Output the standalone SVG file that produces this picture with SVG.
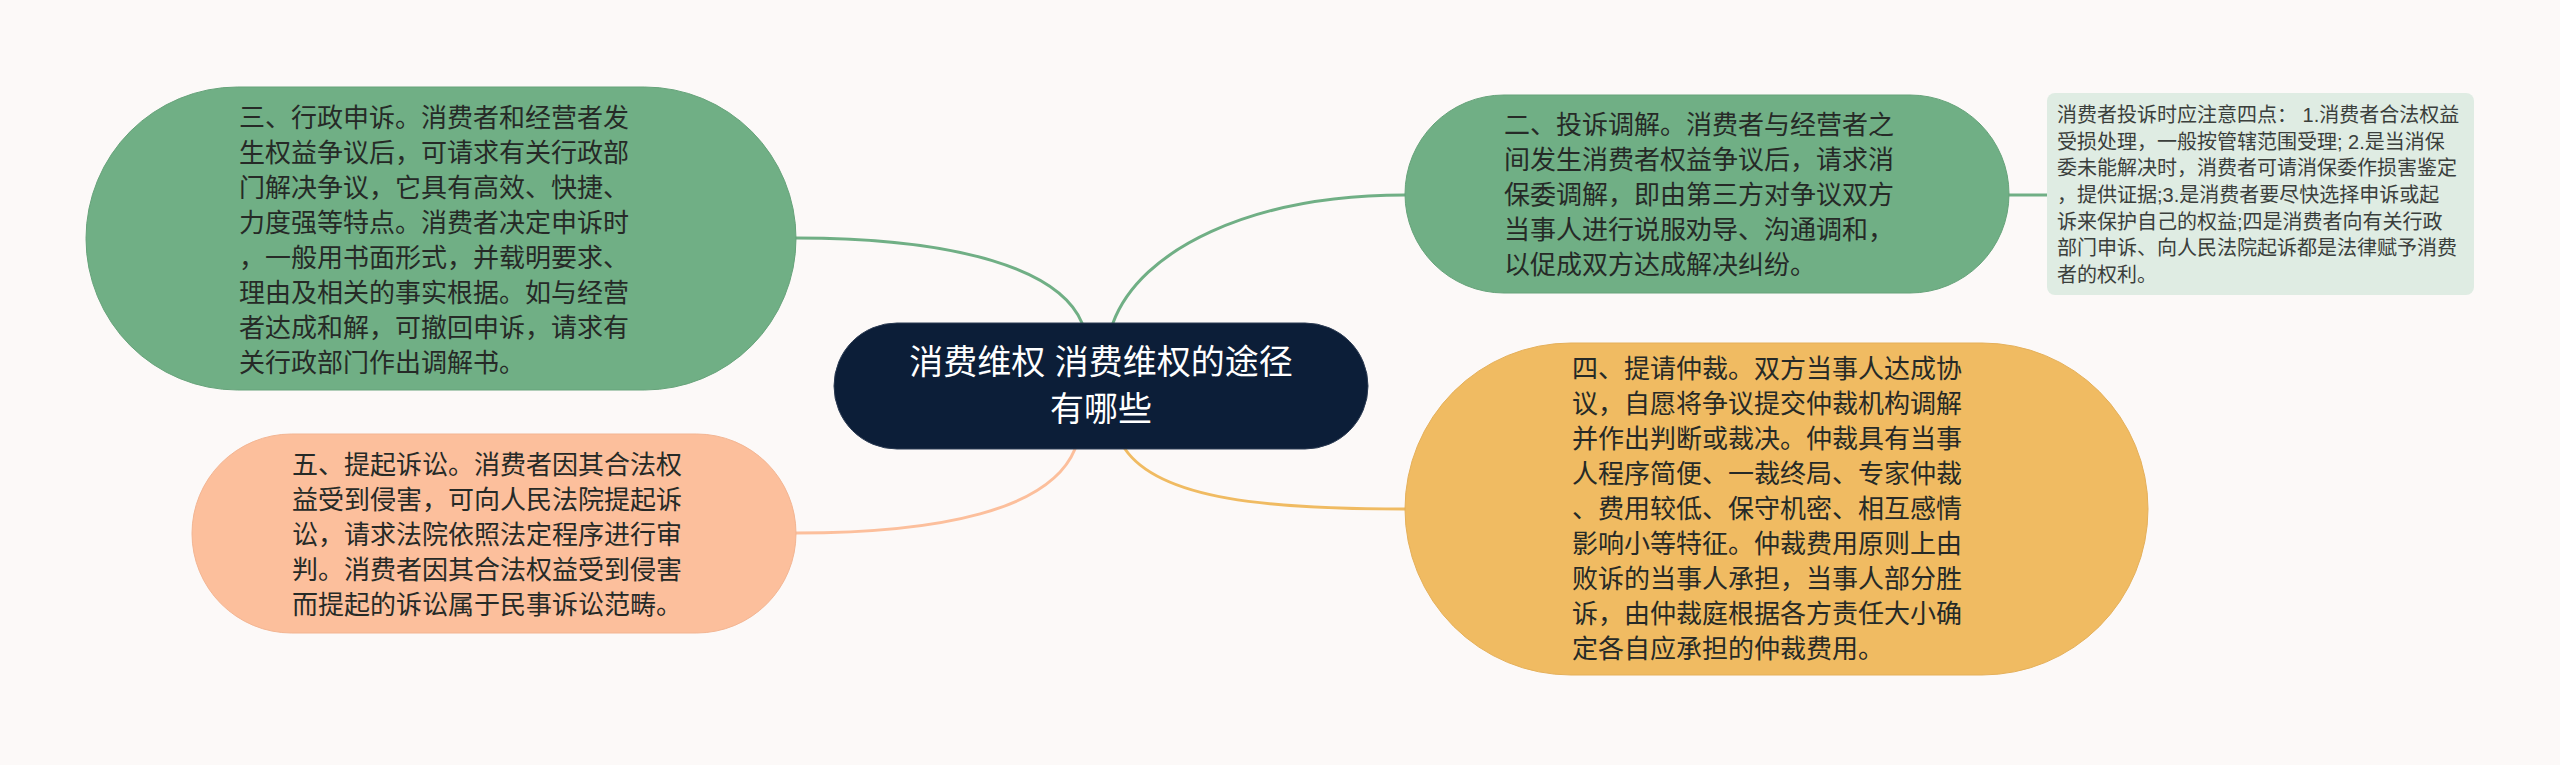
<svg xmlns="http://www.w3.org/2000/svg" width="2560" height="765" viewBox="0 0 2560 765">
<style>
.bg{fill:#fcf9f8}
.t{font-family:"Liberation Sans","Noto Sans CJK SC",sans-serif;dominant-baseline:central}
.body{font-size:26px;fill:#262a27}
.note{font-size:20px;fill:#3b3f3c}
.root{font-size:34px;fill:#ffffff;text-anchor:middle}
.green{fill:#70af85;stroke:#66a37a;stroke-width:1}
.yellow{fill:#f0bb62;stroke:#e5b05a;stroke-width:1}
.peach{fill:#fcbf9c;stroke:#f3b592;stroke-width:1}
.navy{fill:#0c1e38;stroke:#2a3a52;stroke-width:1}
.notebox{fill:#dfece3}
.c{fill:none;stroke-width:3;stroke-linecap:round}
</style>
<rect class="bg" x="0" y="0" width="2560" height="765"/>
<g id="connectors">
<path class="c" stroke="#70af85" d="M1082,323 C1060,270 960,238 796,238"/>
<path class="c" stroke="#70af85" d="M1113,323 C1140,250 1250,195 1405,195"/>
<path class="c" stroke="#fcbf9c" d="M1075,449 C1050,510 940,533 796,533"/>
<path class="c" stroke="#f0bb62" d="M1125,449 C1160,500 1270,509 1405,509"/>
<path class="c" stroke="#70af85" d="M2009,195 L2047,195"/>
</g>
<g id="node-root">
<rect class="navy" x="834" y="323" width="534" height="126" rx="63" ry="63"/>
<text class="t root" x="1101" y="362">消费维权 消费维权的途径</text>
<text class="t root" x="1101" y="409">有哪些</text>
</g>
<g id="node-3">
<rect class="green" x="86" y="87" width="710" height="303" rx="151.5" ry="151.5"/>
<text class="t body" x="239" y="118">三、行政申诉。消费者和经营者发</text>
<text class="t body" x="239" y="153">生权益争议后，可请求有关行政部</text>
<text class="t body" x="239" y="188">门解决争议，它具有高效、快捷、</text>
<text class="t body" x="239" y="223">力度强等特点。消费者决定申诉时</text>
<text class="t body" x="239" y="258">，一般用书面形式，并载明要求、</text>
<text class="t body" x="239" y="293">理由及相关的事实根据。如与经营</text>
<text class="t body" x="239" y="328">者达成和解，可撤回申诉，请求有</text>
<text class="t body" x="239" y="363">关行政部门作出调解书。</text>
</g>
<g id="node-5">
<rect class="peach" x="192" y="434" width="604" height="199" rx="99.5" ry="99.5"/>
<text class="t body" x="292" y="465">五、提起诉讼。消费者因其合法权</text>
<text class="t body" x="292" y="500">益受到侵害，可向人民法院提起诉</text>
<text class="t body" x="292" y="535">讼，请求法院依照法定程序进行审</text>
<text class="t body" x="292" y="570">判。消费者因其合法权益受到侵害</text>
<text class="t body" x="292" y="605">而提起的诉讼属于民事诉讼范畴。</text>
</g>
<g id="node-2">
<rect class="green" x="1405" y="95" width="604" height="198" rx="99" ry="99"/>
<text class="t body" x="1504" y="125">二、投诉调解。消费者与经营者之</text>
<text class="t body" x="1504" y="160">间发生消费者权益争议后，请求消</text>
<text class="t body" x="1504" y="195">保委调解，即由第三方对争议双方</text>
<text class="t body" x="1504" y="230">当事人进行说服劝导、沟通调和，</text>
<text class="t body" x="1504" y="265">以促成双方达成解决纠纷。</text>
</g>
<g id="node-note">
<rect class="notebox" x="2047" y="93" width="427" height="202" rx="8" ry="8"/>
<text class="t note" x="2057" y="115">消费者投诉时应注意四点： 1.消费者合法权益</text>
<text class="t note" x="2057" y="142">受损处理，一般按管辖范围受理; 2.是当消保</text>
<text class="t note" x="2057" y="168">委未能解决时，消费者可请消保委作损害鉴定</text>
<text class="t note" x="2057" y="195">，提供证据;3.是消费者要尽快选择申诉或起</text>
<text class="t note" x="2057" y="222">诉来保护自己的权益;四是消费者向有关行政</text>
<text class="t note" x="2057" y="248">部门申诉、向人民法院起诉都是法律赋予消费</text>
<text class="t note" x="2057" y="275">者的权利。</text>
</g>
<g id="node-4">
<rect class="yellow" x="1405" y="343" width="743" height="332" rx="166" ry="166"/>
<text class="t body" x="1572" y="369">四、提请仲裁。双方当事人达成协</text>
<text class="t body" x="1572" y="404">议，自愿将争议提交仲裁机构调解</text>
<text class="t body" x="1572" y="439">并作出判断或裁决。仲裁具有当事</text>
<text class="t body" x="1572" y="474">人程序简便、一裁终局、专家仲裁</text>
<text class="t body" x="1572" y="509">、费用较低、保守机密、相互感情</text>
<text class="t body" x="1572" y="544">影响小等特征。仲裁费用原则上由</text>
<text class="t body" x="1572" y="579">败诉的当事人承担，当事人部分胜</text>
<text class="t body" x="1572" y="614">诉，由仲裁庭根据各方责任大小确</text>
<text class="t body" x="1572" y="649">定各自应承担的仲裁费用。</text>
</g>
</svg>
